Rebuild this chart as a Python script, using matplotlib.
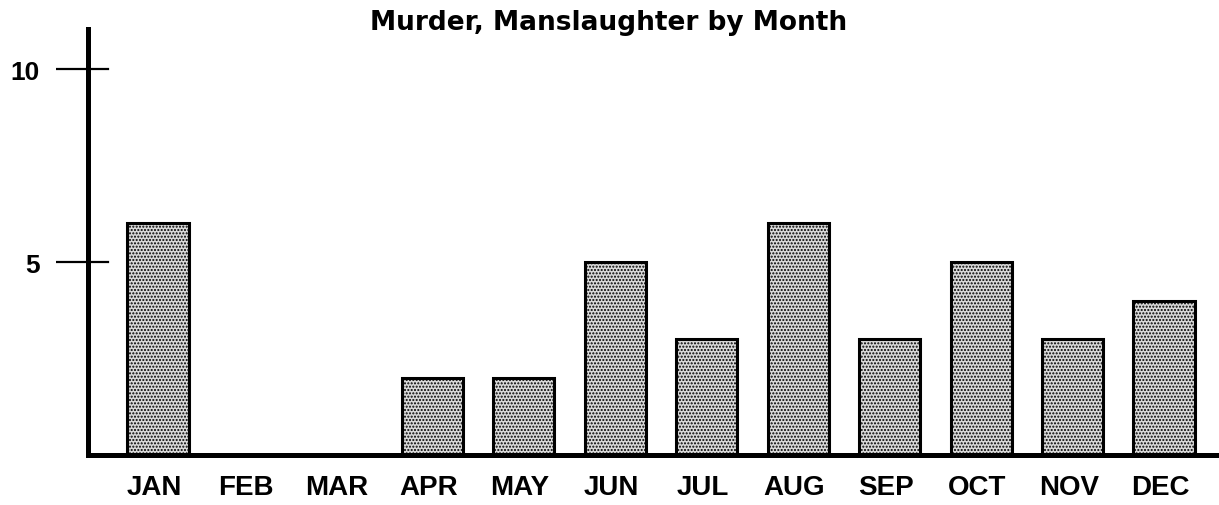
import matplotlib
matplotlib.use("Agg")
import matplotlib.pyplot as plt
from matplotlib.transforms import ScaledTranslation

months = ["JAN", "FEB", "MAR", "APR", "MAY", "JUN", "JUL", "AUG", "SEP", "OCT", "NOV", "DEC"]
counts = [6, 0, 0, 2, 2, 5, 3, 6, 3, 5, 3, 4]
yticks = [5, 10]
title = "Murder, Manslaughter by Month"

plt.rcParams['font.family'] = ['Liberation Sans', 'DejaVu Sans']
plt.rcParams['hatch.color'] = '#606060'
plt.rcParams['hatch.linewidth'] = 1.0

fig = plt.figure(figsize=(12.19, 5.06), dpi=100)
ax = fig.add_axes([88/1219, 50/506, 1 - 88/1219, 426/506])

x = list(range(len(months)))
ax.bar(x, counts, width=0.67, facecolor='#d9d9d9', edgecolor='black',
       linewidth=2.2, hatch='.....', zorder=2)

ax.set_xlim(-0.765, 11.60)
ax.set_ylim(0, 11.04)

for s in ['top', 'right']:
    ax.spines[s].set_visible(False)
ax.spines['left'].set_linewidth(3.6)
ax.spines['bottom'].set_linewidth(3.6)

ax.set_xticks(x)
ax.set_xticklabels(months, fontsize=20, fontweight='bold')
ax.tick_params(axis='x', length=0, pad=14)
shift = ScaledTranslation(-4/100, 0, fig.dpi_scale_trans)
for lab in ax.get_xticklabels():
    lab.set_transform(lab.get_transform() + shift)

ax.set_yticks(yticks)
ax.set_yticklabels([str(t) for t in yticks], fontsize=19, fontweight='bold')
ax.tick_params(axis='y', direction='out', length=23, width=1.6, pad=12)
ytr = ax.get_yaxis_transform()
for t in yticks:
    ax.plot([0, 20/1131], [t, t], transform=ytr, color='black', lw=1.6, clip_on=False)

fig.text(609/1219, 1 - 30/506, title, ha='center', va='baseline',
         fontsize=19, fontweight='bold', family='DejaVu Sans')

fig.savefig("out.png", dpi=100)
